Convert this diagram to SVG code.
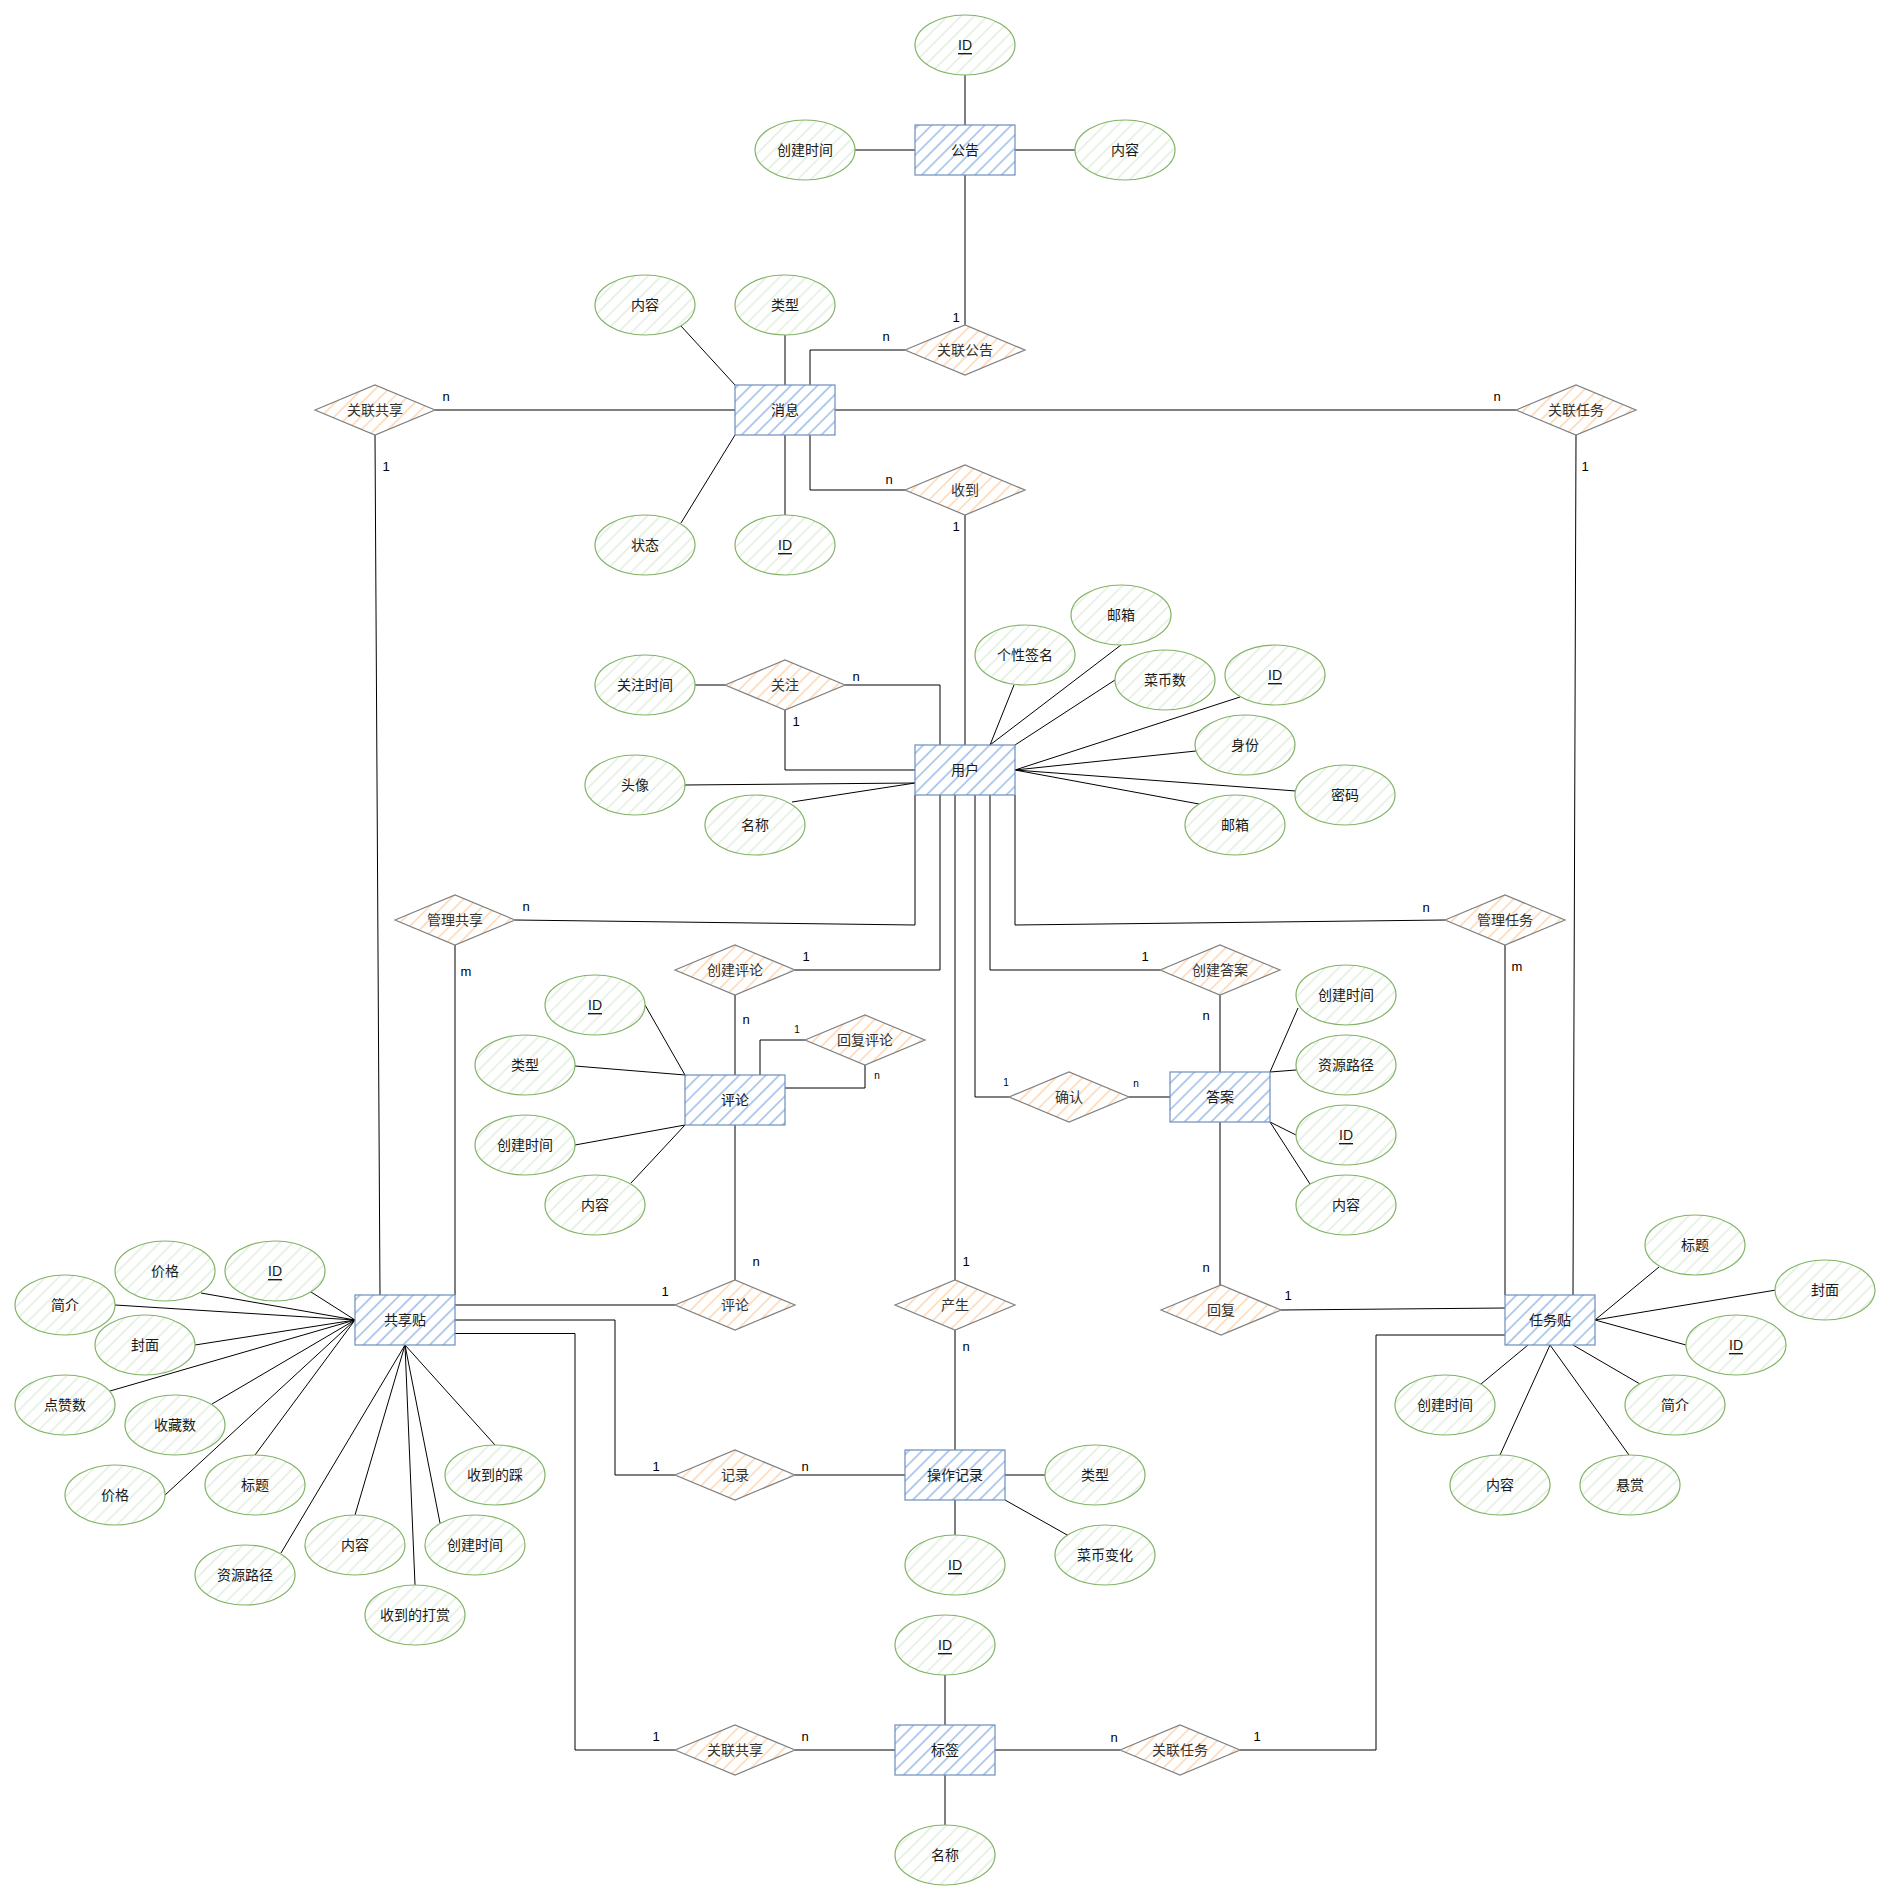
<svg xmlns="http://www.w3.org/2000/svg" width="1891" height="1901" viewBox="0 0 1891 1901">
<defs>
<pattern id="hb" width="9.4" height="10" patternUnits="userSpaceOnUse" patternTransform="rotate(45)"><rect width="9.4" height="10" fill="#fff"/><line x1="4.7" y1="0" x2="4.7" y2="10" stroke="#6a9be0" stroke-width="1"/></pattern>
<pattern id="hg" width="9.4" height="10" patternUnits="userSpaceOnUse" patternTransform="rotate(45)"><rect width="9.4" height="10" fill="#fff"/><line x1="4.7" y1="0" x2="4.7" y2="10" stroke="#d3e8cf" stroke-width="1"/></pattern>
<pattern id="ho" width="9.4" height="10" patternUnits="userSpaceOnUse" patternTransform="rotate(45)"><rect width="9.4" height="10" fill="#fff"/><line x1="4.7" y1="0" x2="4.7" y2="10" stroke="#ffc28a" stroke-width="1"/></pattern>
</defs>
<style>
.ent{fill:url(#hb);stroke:#6c8ebf;stroke-width:1.2}
.att{fill:url(#hg);stroke:#82b366;stroke-width:1.2}
.rel{fill:url(#ho);stroke:#808080;stroke-width:1.2}
text{font-family:"Liberation Sans","Noto Sans CJK SC",sans-serif;font-size:14px;text-anchor:middle;dominant-baseline:central;fill:#1a1a1a}
.rel+text{fill:#333}
.u{text-decoration:underline}
.c{font-size:13px;fill:#000}
.s{font-size:10px;fill:#000}
#edges polyline,#edges line{stroke:#000;stroke-width:1;fill:none}
</style>
<rect width="1891" height="1901" fill="#fff"/>
<g id="edges">
<line x1="965" y1="75" x2="965" y2="125"/>
<line x1="855" y1="150" x2="915" y2="150"/>
<line x1="1015" y1="150" x2="1075" y2="150"/>
<line x1="965" y1="175" x2="965" y2="325"/>
<polyline points="810,385 810,350 905,350"/>
<line x1="681" y1="326" x2="735" y2="385"/>
<line x1="785" y1="335" x2="785" y2="385"/>
<line x1="735" y1="435" x2="681" y2="523"/>
<line x1="785" y1="435" x2="785" y2="515"/>
<polyline points="810,435 810,490 905,490"/>
<line x1="965" y1="515" x2="965" y2="745"/>
<line x1="435" y1="410" x2="735" y2="410"/>
<line x1="375" y1="435" x2="380" y2="1295"/>
<line x1="835" y1="410" x2="1516" y2="410"/>
<line x1="1576" y1="435" x2="1573" y2="1295"/>
<line x1="695" y1="685" x2="725" y2="685"/>
<polyline points="845,685 940,685 940,745"/>
<polyline points="785,710 785,770 915,770"/>
<line x1="685" y1="785" x2="915" y2="783"/>
<line x1="792" y1="802" x2="915" y2="783"/>
<line x1="1014" y1="685" x2="990" y2="745"/>
<line x1="1121" y1="645" x2="990" y2="745"/>
<line x1="1115" y1="680" x2="1015" y2="745"/>
<line x1="1240" y1="697" x2="1015" y2="770"/>
<line x1="1196" y1="751" x2="1015" y2="770"/>
<line x1="1296" y1="791" x2="1015" y2="770"/>
<line x1="1199" y1="804" x2="1015" y2="770"/>
<polyline points="915,795 915,925 515,920"/>
<line x1="455" y1="945" x2="455" y2="1295"/>
<polyline points="940,795 940,970 795,970"/>
<line x1="735" y1="995" x2="735" y2="1075"/>
<line x1="955" y1="795" x2="955" y2="1280"/>
<line x1="955" y1="1330" x2="955" y2="1450"/>
<polyline points="975,795 975,1097 1009,1097"/>
<line x1="1129" y1="1097" x2="1170" y2="1097"/>
<polyline points="990,795 990,970 1160,970"/>
<line x1="1220" y1="995" x2="1220" y2="1072"/>
<polyline points="1015,795 1015,925 1445,920"/>
<line x1="1505" y1="945" x2="1505" y2="1295"/>
<polyline points="760,1075 760,1040 805,1040"/>
<polyline points="785,1088 865,1088 865,1065"/>
<line x1="645" y1="1005" x2="685" y2="1075"/>
<line x1="575" y1="1066" x2="685" y2="1075"/>
<line x1="575" y1="1145" x2="685" y2="1125"/>
<line x1="631" y1="1183" x2="685" y2="1125"/>
<line x1="735" y1="1125" x2="735" y2="1280"/>
<line x1="675" y1="1305" x2="455" y2="1305"/>
<line x1="1270" y1="1072" x2="1298" y2="1008"/>
<line x1="1270" y1="1072" x2="1296" y2="1070"/>
<line x1="1270" y1="1122" x2="1296" y2="1135"/>
<line x1="1270" y1="1122" x2="1310" y2="1184"/>
<line x1="1220" y1="1122" x2="1220" y2="1285"/>
<line x1="1281" y1="1310" x2="1505" y2="1308"/>
<line x1="355" y1="1320" x2="201" y2="1293"/>
<line x1="355" y1="1320" x2="311" y2="1292"/>
<line x1="355" y1="1320" x2="115" y2="1305"/>
<line x1="355" y1="1320" x2="195" y2="1345"/>
<line x1="355" y1="1320" x2="110" y2="1391"/>
<line x1="355" y1="1320" x2="212" y2="1404"/>
<line x1="355" y1="1320" x2="165" y2="1495"/>
<line x1="355" y1="1320" x2="255" y2="1455"/>
<line x1="405" y1="1345" x2="281" y2="1553"/>
<line x1="405" y1="1345" x2="355" y2="1515"/>
<line x1="405" y1="1345" x2="415" y2="1585"/>
<line x1="405" y1="1345" x2="440" y2="1523"/>
<line x1="405" y1="1345" x2="495" y2="1445"/>
<polyline points="455,1320 615,1320 615,1475 675,1475"/>
<line x1="795" y1="1475" x2="905" y2="1475"/>
<polyline points="455,1333.5 575,1333.5 575,1750 675,1750"/>
<line x1="795" y1="1750" x2="895" y2="1750"/>
<line x1="1005" y1="1475" x2="1045" y2="1475"/>
<line x1="1005" y1="1500" x2="1069" y2="1536"/>
<line x1="955" y1="1500" x2="955" y2="1535"/>
<line x1="945" y1="1675" x2="945" y2="1725"/>
<line x1="945" y1="1775" x2="945" y2="1825"/>
<line x1="995" y1="1750" x2="1120" y2="1750"/>
<polyline points="1240,1750 1376,1750 1376,1335 1505,1335"/>
<line x1="1595" y1="1320" x2="1659" y2="1267"/>
<line x1="1595" y1="1320" x2="1776" y2="1290"/>
<line x1="1595" y1="1320" x2="1686" y2="1345"/>
<line x1="1573" y1="1345" x2="1640" y2="1384"/>
<line x1="1550" y1="1345" x2="1629" y2="1455"/>
<line x1="1550" y1="1345" x2="1500" y2="1455"/>
<line x1="1528" y1="1345" x2="1481" y2="1384"/>
<text class="c" x="956" y="317">1</text>
<text class="c" x="886" y="336">n</text>
<text class="c" x="889" y="479">n</text>
<text class="c" x="956" y="526">1</text>
<text class="c" x="446" y="396">n</text>
<text class="c" x="386" y="466">1</text>
<text class="c" x="1497" y="396">n</text>
<text class="c" x="1585" y="466">1</text>
<text class="c" x="856" y="676">n</text>
<text class="c" x="796" y="721">1</text>
<text class="c" x="526" y="906">n</text>
<text class="c" x="466" y="971">m</text>
<text class="c" x="806" y="956">1</text>
<text class="c" x="746" y="1019">n</text>
<text class="c" x="966" y="1261">1</text>
<text class="c" x="966" y="1346">n</text>
<text class="s" x="1006" y="1082">1</text>
<text class="s" x="1136" y="1083">n</text>
<text class="c" x="1145" y="956">1</text>
<text class="c" x="1206" y="1015">n</text>
<text class="c" x="1426" y="907">n</text>
<text class="c" x="1517" y="966">m</text>
<text class="s" x="797" y="1029">1</text>
<text class="s" x="877" y="1075">n</text>
<text class="c" x="756" y="1261">n</text>
<text class="c" x="665" y="1291">1</text>
<text class="c" x="1206" y="1267">n</text>
<text class="c" x="1288" y="1295">1</text>
<text class="c" x="656" y="1466">1</text>
<text class="c" x="805" y="1466">n</text>
<text class="c" x="656" y="1736">1</text>
<text class="c" x="805" y="1736">n</text>
<text class="c" x="1114" y="1737">n</text>
<text class="c" x="1257" y="1736">1</text>
</g>
<g id="e-gonggao"><rect class="ent" x="915" y="125" width="100" height="50"/><text x="965" y="150">公告</text></g>
<g id="e-xiaoxi"><rect class="ent" x="735" y="385" width="100" height="50"/><text x="785" y="410">消息</text></g>
<g id="e-yonghu"><rect class="ent" x="915" y="745" width="100" height="50"/><text x="965" y="770">用户</text></g>
<g id="e-pinglun"><rect class="ent" x="685" y="1075" width="100" height="50"/><text x="735" y="1100">评论</text></g>
<g id="e-daan"><rect class="ent" x="1170" y="1072" width="100" height="50"/><text x="1220" y="1097">答案</text></g>
<g id="e-gongxiang"><rect class="ent" x="355" y="1295" width="100" height="50"/><text x="405" y="1320">共享贴</text></g>
<g id="e-renwu"><rect class="ent" x="1505" y="1295" width="90" height="50"/><text x="1550" y="1320">任务贴</text></g>
<g id="e-caozuo"><rect class="ent" x="905" y="1450" width="100" height="50"/><text x="955" y="1475">操作记录</text></g>
<g id="e-biaoqian"><rect class="ent" x="895" y="1725" width="100" height="50"/><text x="945" y="1750">标签</text></g>
<g id="r-glgg"><polygon class="rel" points="905,350 965,325 1025,350 965,375"/><text x="965" y="350">关联公告</text></g>
<g id="r-glgx1"><polygon class="rel" points="315,410 375,385 435,410 375,435"/><text x="375" y="410">关联共享</text></g>
<g id="r-glrw1"><polygon class="rel" points="1516,410 1576,385 1636,410 1576,435"/><text x="1576" y="410">关联任务</text></g>
<g id="r-shoudao"><polygon class="rel" points="905,490 965,465 1025,490 965,515"/><text x="965" y="490">收到</text></g>
<g id="r-guanzhu"><polygon class="rel" points="725,685 785,660 845,685 785,710"/><text x="785" y="685">关注</text></g>
<g id="r-glgx"><polygon class="rel" points="395,920 455,895 515,920 455,945"/><text x="455" y="920">管理共享</text></g>
<g id="r-glrw"><polygon class="rel" points="1445,920 1505,895 1565,920 1505,945"/><text x="1505" y="920">管理任务</text></g>
<g id="r-cjpl"><polygon class="rel" points="675,970 735,945 795,970 735,995"/><text x="735" y="970">创建评论</text></g>
<g id="r-cjda"><polygon class="rel" points="1160,970 1220,945 1280,970 1220,995"/><text x="1220" y="970">创建答案</text></g>
<g id="r-hfpl"><polygon class="rel" points="805,1040 865,1015 925,1040 865,1065"/><text x="865" y="1040">回复评论</text></g>
<g id="r-queren"><polygon class="rel" points="1009,1097 1069,1072 1129,1097 1069,1122"/><text x="1069" y="1097">确认</text></g>
<g id="r-pinglun"><polygon class="rel" points="675,1305 735,1280 795,1305 735,1330"/><text x="735" y="1305">评论</text></g>
<g id="r-chansheng"><polygon class="rel" points="895,1305 955,1280 1015,1305 955,1330"/><text x="955" y="1305">产生</text></g>
<g id="r-huifu"><polygon class="rel" points="1161,1310 1221,1285 1281,1310 1221,1335"/><text x="1221" y="1310">回复</text></g>
<g id="r-jilu"><polygon class="rel" points="675,1475 735,1450 795,1475 735,1500"/><text x="735" y="1475">记录</text></g>
<g id="r-glgx2"><polygon class="rel" points="675,1750 735,1725 795,1750 735,1775"/><text x="735" y="1750">关联共享</text></g>
<g id="r-glrw2"><polygon class="rel" points="1120,1750 1180,1725 1240,1750 1180,1775"/><text x="1180" y="1750">关联任务</text></g>
<g id="a-gg-id"><ellipse class="att" cx="965" cy="45" rx="50" ry="30"/><text class="u" x="965" y="45">ID</text></g>
<g id="a-gg-time"><ellipse class="att" cx="805" cy="150" rx="50" ry="30"/><text x="805" y="150">创建时间</text></g>
<g id="a-gg-content"><ellipse class="att" cx="1125" cy="150" rx="50" ry="30"/><text x="1125" y="150">内容</text></g>
<g id="a-xx-content"><ellipse class="att" cx="645" cy="305" rx="50" ry="30"/><text x="645" y="305">内容</text></g>
<g id="a-xx-type"><ellipse class="att" cx="785" cy="305" rx="50" ry="30"/><text x="785" y="305">类型</text></g>
<g id="a-xx-state"><ellipse class="att" cx="645" cy="545" rx="50" ry="30"/><text x="645" y="545">状态</text></g>
<g id="a-xx-id"><ellipse class="att" cx="785" cy="545" rx="50" ry="30"/><text class="u" x="785" y="545">ID</text></g>
<g id="a-gz-time"><ellipse class="att" cx="645" cy="685" rx="50" ry="30"/><text x="645" y="685">关注时间</text></g>
<g id="a-yh-avatar"><ellipse class="att" cx="635" cy="785" rx="50" ry="30"/><text x="635" y="785">头像</text></g>
<g id="a-yh-name"><ellipse class="att" cx="755" cy="825" rx="50" ry="30"/><text x="755" y="825">名称</text></g>
<g id="a-yh-sign"><ellipse class="att" cx="1025" cy="655" rx="50" ry="30"/><text x="1025" y="655">个性签名</text></g>
<g id="a-yh-mail1"><ellipse class="att" cx="1121" cy="615" rx="50" ry="30"/><text x="1121" y="615">邮箱</text></g>
<g id="a-yh-coin"><ellipse class="att" cx="1165" cy="680" rx="50" ry="30"/><text x="1165" y="680">菜币数</text></g>
<g id="a-yh-id"><ellipse class="att" cx="1275" cy="675" rx="50" ry="30"/><text class="u" x="1275" y="675">ID</text></g>
<g id="a-yh-role"><ellipse class="att" cx="1245" cy="745" rx="50" ry="30"/><text x="1245" y="745">身份</text></g>
<g id="a-yh-pwd"><ellipse class="att" cx="1345" cy="795" rx="50" ry="30"/><text x="1345" y="795">密码</text></g>
<g id="a-yh-mail2"><ellipse class="att" cx="1235" cy="825" rx="50" ry="30"/><text x="1235" y="825">邮箱</text></g>
<g id="a-pl-id"><ellipse class="att" cx="595" cy="1005" rx="50" ry="30"/><text class="u" x="595" y="1005">ID</text></g>
<g id="a-pl-type"><ellipse class="att" cx="525" cy="1065" rx="50" ry="30"/><text x="525" y="1065">类型</text></g>
<g id="a-pl-time"><ellipse class="att" cx="525" cy="1145" rx="50" ry="30"/><text x="525" y="1145">创建时间</text></g>
<g id="a-pl-content"><ellipse class="att" cx="595" cy="1205" rx="50" ry="30"/><text x="595" y="1205">内容</text></g>
<g id="a-da-time"><ellipse class="att" cx="1346" cy="995" rx="50" ry="30"/><text x="1346" y="995">创建时间</text></g>
<g id="a-da-path"><ellipse class="att" cx="1346" cy="1065" rx="50" ry="30"/><text x="1346" y="1065">资源路径</text></g>
<g id="a-da-id"><ellipse class="att" cx="1346" cy="1135" rx="50" ry="30"/><text class="u" x="1346" y="1135">ID</text></g>
<g id="a-da-content"><ellipse class="att" cx="1346" cy="1205" rx="50" ry="30"/><text x="1346" y="1205">内容</text></g>
<g id="a-gx-price1"><ellipse class="att" cx="165" cy="1271" rx="50" ry="30"/><text x="165" y="1271">价格</text></g>
<g id="a-gx-id"><ellipse class="att" cx="275" cy="1271" rx="50" ry="30"/><text class="u" x="275" y="1271">ID</text></g>
<g id="a-gx-intro"><ellipse class="att" cx="65" cy="1305" rx="50" ry="30"/><text x="65" y="1305">简介</text></g>
<g id="a-gx-cover"><ellipse class="att" cx="145" cy="1345" rx="50" ry="30"/><text x="145" y="1345">封面</text></g>
<g id="a-gx-like"><ellipse class="att" cx="65" cy="1405" rx="50" ry="30"/><text x="65" y="1405">点赞数</text></g>
<g id="a-gx-fav"><ellipse class="att" cx="175" cy="1425" rx="50" ry="30"/><text x="175" y="1425">收藏数</text></g>
<g id="a-gx-price2"><ellipse class="att" cx="115" cy="1495" rx="50" ry="30"/><text x="115" y="1495">价格</text></g>
<g id="a-gx-title"><ellipse class="att" cx="255" cy="1485" rx="50" ry="30"/><text x="255" y="1485">标题</text></g>
<g id="a-gx-path"><ellipse class="att" cx="245" cy="1575" rx="50" ry="30"/><text x="245" y="1575">资源路径</text></g>
<g id="a-gx-content"><ellipse class="att" cx="355" cy="1545" rx="50" ry="30"/><text x="355" y="1545">内容</text></g>
<g id="a-gx-reward"><ellipse class="att" cx="415" cy="1615" rx="50" ry="30"/><text x="415" y="1615">收到的打赏</text></g>
<g id="a-gx-time"><ellipse class="att" cx="475" cy="1545" rx="50" ry="30"/><text x="475" y="1545">创建时间</text></g>
<g id="a-gx-dislike"><ellipse class="att" cx="495" cy="1475" rx="50" ry="30"/><text x="495" y="1475">收到的踩</text></g>
<g id="a-rw-title"><ellipse class="att" cx="1695" cy="1245" rx="50" ry="30"/><text x="1695" y="1245">标题</text></g>
<g id="a-rw-cover"><ellipse class="att" cx="1825" cy="1290" rx="50" ry="30"/><text x="1825" y="1290">封面</text></g>
<g id="a-rw-id"><ellipse class="att" cx="1736" cy="1345" rx="50" ry="30"/><text class="u" x="1736" y="1345">ID</text></g>
<g id="a-rw-intro"><ellipse class="att" cx="1675" cy="1405" rx="50" ry="30"/><text x="1675" y="1405">简介</text></g>
<g id="a-rw-bounty"><ellipse class="att" cx="1630" cy="1485" rx="50" ry="30"/><text x="1630" y="1485">悬赏</text></g>
<g id="a-rw-content"><ellipse class="att" cx="1500" cy="1485" rx="50" ry="30"/><text x="1500" y="1485">内容</text></g>
<g id="a-rw-time"><ellipse class="att" cx="1445" cy="1405" rx="50" ry="30"/><text x="1445" y="1405">创建时间</text></g>
<g id="a-cz-type"><ellipse class="att" cx="1095" cy="1475" rx="50" ry="30"/><text x="1095" y="1475">类型</text></g>
<g id="a-cz-coin"><ellipse class="att" cx="1105" cy="1555" rx="50" ry="30"/><text x="1105" y="1555">菜币变化</text></g>
<g id="a-cz-id"><ellipse class="att" cx="955" cy="1565" rx="50" ry="30"/><text class="u" x="955" y="1565">ID</text></g>
<g id="a-bq-id"><ellipse class="att" cx="945" cy="1645" rx="50" ry="30"/><text class="u" x="945" y="1645">ID</text></g>
<g id="a-bq-name"><ellipse class="att" cx="945" cy="1855" rx="50" ry="30"/><text x="945" y="1855">名称</text></g>
</svg>
